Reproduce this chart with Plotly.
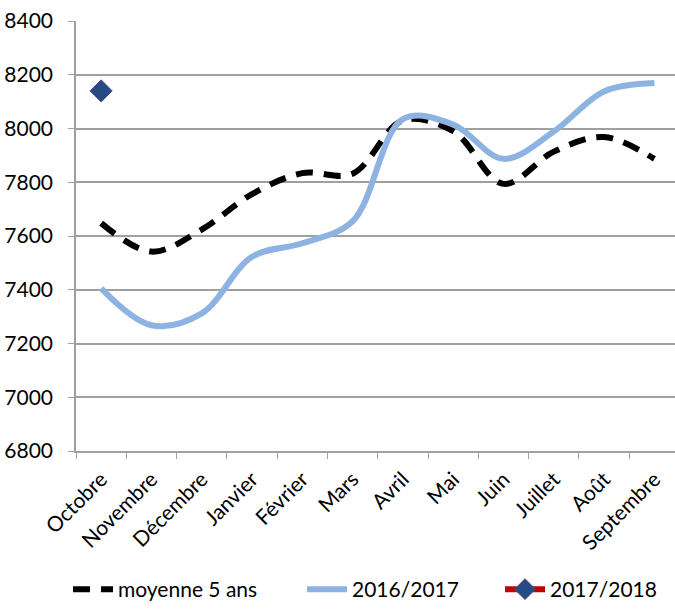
import plotly.graph_objects as go

months = ["Octobre", "Novembre", "Décembre", "Janvier", "Février", "Mars",
          "Avril", "Mai", "Juin", "Juillet", "Août", "Septembre"]
moyenne_5_ans = [7648, 7542, 7624, 7756, 7834, 7832, 8030, 7990, 7794, 7914, 7968, 7887]
s2016_2017 = [7405, 7268, 7312, 7523, 7573, 7655, 8035, 8015, 7887, 7989, 8138, 8169]
s2017_2018 = [8140]
y_ticks = [6800, 7000, 7200, 7400, 7600, 7800, 8000, 8200, 8400]

FONT = "Lato"

fig = go.Figure()
fig.add_trace(go.Scatter(
    x=months, y=moyenne_5_ans, name="moyenne 5 ans", mode="lines", legend="legend",
    line=dict(color="#000000", width=6, dash="17px,11px", shape="spline", smoothing=1.0),
))
fig.add_trace(go.Scatter(
    x=months, y=s2016_2017, name="2016/2017", mode="lines", legend="legend2",
    line=dict(color="#8DB3E2", width=6, shape="spline", smoothing=1.0),
))
fig.add_trace(go.Scatter(
    x=months[:len(s2017_2018)], y=s2017_2018, name="2017/2018", mode="lines+markers",
    legend="legend3",
    line=dict(color="#C00000", width=6),
    marker=dict(symbol="diamond", size=17, color="#254B86",
                line=dict(color="#5B3F86", width=1)),
))

def leg(xpix):
    return dict(orientation="h", xref="container", yref="container",
                x=xpix / 675, xanchor="left", y=0.0, yanchor="bottom",
                font=dict(family=FONT, size=21), itemwidth=40,
                bgcolor="rgba(0,0,0,0)")

fig.update_layout(
    width=675, height=610,
    margin=dict(l=76, r=0, t=21, b=159, autoexpand=False),
    paper_bgcolor="white", plot_bgcolor="white",
    font=dict(family=FONT, size=21, color="#000000"),
    showlegend=True,
    legend=leg(68), legend2=leg(302), legend3=leg(500),
)
fig.update_xaxes(
    categoryorder="array", categoryarray=months, automargin=False,
    range=[-0.5, 11.41], tickangle=-45,
    showline=True, linecolor="#A0A0A0", linewidth=1.5,
    ticks="outside", tickson="boundaries", ticklen=6, tickcolor="#A0A0A0",
    ticklabelstandoff=6,
    showgrid=False, tickfont=dict(family=FONT, size=21),
)
fig.update_yaxes(
    range=[6800, 8400], tickvals=y_ticks, ticktext=[str(v) for v in y_ticks],
    automargin=False,
    showline=True, linecolor="#A0A0A0", linewidth=1.5,
    ticks="outside", ticklen=6, tickcolor="#A0A0A0", ticklabelstandoff=11,
    showgrid=True, gridcolor="#A0A0A0", gridwidth=1.5,
    zeroline=False, tickfont=dict(family=FONT, size=21),
)

fig.write_html(
    "out.html",
    config={"displayModeBar": False},
    post_script="document.body.style.margin='0px';document.body.style.overflow='hidden';",
)
